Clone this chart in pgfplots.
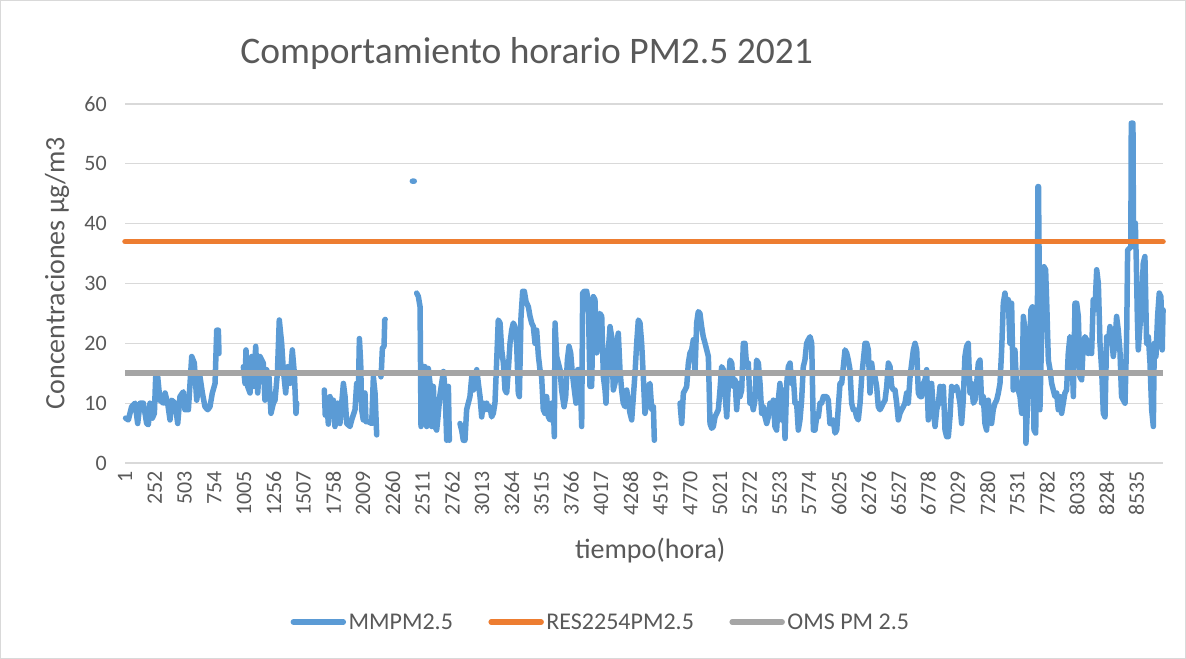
\documentclass[border=0pt]{standalone}
\usepackage{pgfplots}
\pgfplotsset{compat=1.18}
\usepackage{fontspec}
\setmainfont{Carlito}
\definecolor{txt}{HTML}{595959}
\definecolor{cblue}{HTML}{5B9BD5}
\definecolor{corange}{HTML}{ED7D31}
\definecolor{cgray}{HTML}{A5A5A5}
\definecolor{cgrid}{HTML}{D9D9D9}
\pgfplotstableread{
h v
5 7.5
28 7.2
56 9.4
85 10.0
107 6.6
127 10.0
155 10.0
183 6.6
197 6.4
211 10.0
231 7.5
248 8.3
259 14.4
276 14.4
295 10.5
324 10.0
338 11.7
360 10.0
380 7.2
394 10.5
422 10.0
445 6.6
464 11.1
492 11.9
506 8.9
535 8.9
563 17.8
585 16.7
605 10.5
633 14.4
653 11.7
675 9.4
698 8.9
717 9.4
737 11.7
760 13.3
774 22.2
788 22.2
793 18.3
795 nan
999 16.1
1013 13.3
1021 18.9
1035 12.8
1055 11.7
1069 17.8
1086 12.8
1103 19.5
1120 11.7
1139 17.8
1167 16.7
1181 10.5
1195 15.6
1215 14.4
1232 8.3
1252 10.0
1266 10.5
1286 15.0
1302 23.9
1322 20.0
1336 15.6
1356 11.7
1373 16.1
1392 13.3
1412 18.9
1429 15.0
1443 8.3
1449 10.0
1450 nan
1682 12.2
1690 8.0
1702 10.5
1716 6.5
1730 11.1
1744 8.9
1758 10.5
1772 6.1
1795 10.0
1814 6.6
1843 13.3
1857 11.1
1871 6.6
1899 6.1
1913 7.2
1941 8.9
1955 13.3
1969 11.7
1978 20.8
1989 16.7
1997 8.9
2011 7.2
2025 11.7
2034 6.9
2053 6.9
2082 6.6
2096 14.4
2110 11.7
2124 4.7
2130 nan
2160 14.4
2165 16.0
2172 19.2
2186 19.5
2192 23.9
2196 24.0
2200 nan
2425 47.1
2441 47.1
2445 nan
2461 28.4
2476 27.8
2490 26.1
2498 6.1
2509 16.1
2532 16.1
2546 6.1
2560 15.8
2574 13.3
2588 6.1
2602 12.8
2616 6.1
2630 5.5
2639 7.2
2658 11.4
2687 15.3
2701 12.2
2715 3.8
2729 12.8
2737 3.8
2740 nan
2827 6.6
2841 5.5
2855 3.8
2869 3.8
2883 8.9
2897 10.0
2911 11.1
2926 14.4
2940 12.2
2954 13.3
2968 15.6
2982 13.3
2996 11.1
3010 7.7
3024 10.0
3038 8.9
3052 10.0
3066 8.9
3080 9.4
3094 7.7
3108 8.3
3122 10.0
3136 16.7
3150 23.9
3165 23.4
3179 18.9
3193 16.7
3207 12.2
3221 11.7
3235 15.6
3249 20.0
3263 22.2
3277 23.4
3291 22.8
3305 20.0
3319 11.7
3328 11.1
3342 24.5
3356 28.7
3370 28.7
3384 27.0
3404 26.1
3418 24.5
3432 23.4
3446 22.8
3460 20.0
3474 22.2
3488 18.0
3502 15.6
3516 14.4
3530 8.9
3544 8.3
3558 11.1
3573 7.7
3587 7.2
3601 10.0
3615 10.0
3623 4.4
3629 23.4
3643 17.8
3657 16.7
3671 15.6
3685 12.2
3705 9.4
3719 11.1
3733 17.2
3747 19.5
3761 18.4
3775 15.0
3792 12.2
3806 10.0
3820 15.6
3840 15.6
3854 6.1
3862 28.4
3876 28.7
3896 28.7
3910 26.7
3924 12.8
3938 12.8
3952 27.8
3966 27.3
3980 18.4
3994 20.0
4008 25.0
4023 24.5
4037 14.4
4051 12.2
4059 10.0
4073 17.2
4093 22.8
4107 21.1
4121 12.2
4135 13.3
4149 20.0
4163 21.7
4177 15.6
4191 12.2
4205 10.0
4220 9.4
4234 12.2
4248 10.0
4262 8.3
4276 7.2
4290 11.1
4304 15.0
4318 20.0
4332 23.9
4346 23.4
4360 20.0
4374 14.4
4388 8.3
4402 10.0
4416 12.8
4430 13.3
4445 8.9
4459 9.4
4467 3.8
4470 nan
4684 10.0
4698 6.6
4712 11.7
4726 12.2
4740 12.8
4754 16.7
4768 18.4
4782 18.9
4796 20.6
4810 15.0
4824 23.4
4838 25.3
4852 25.0
4866 22.8
4880 21.1
4895 20.0
4909 18.9
4923 17.8
4937 6.6
4951 5.8
4965 6.1
4979 7.7
4993 8.3
5007 8.9
5021 12.2
5035 16.1
5049 15.6
5063 11.7
5078 7.7
5092 13.3
5106 17.2
5120 16.7
5134 12.8
5148 13.9
5162 8.9
5176 13.3
5190 11.1
5204 12.2
5218 20.0
5232 20.0
5246 16.1
5260 16.7
5274 10.0
5288 10.5
5302 8.9
5316 10.5
5330 17.2
5345 16.7
5359 13.3
5373 8.3
5387 9.4
5401 7.7
5415 6.6
5429 7.7
5443 10.0
5457 8.9
5471 10.5
5485 6.1
5499 5.5
5513 10.5
5527 13.3
5541 7.2
5555 12.2
5570 4.1
5584 13.3
5598 16.1
5612 16.7
5626 13.3
5640 14.4
5654 10.0
5668 10.0
5682 5.5
5696 7.2
5710 10.5
5724 16.1
5738 17.2
5752 20.0
5766 20.6
5781 21.1
5795 20.0
5809 5.5
5823 5.5
5837 7.7
5851 7.7
5865 10.0
5879 10.0
5893 11.1
5907 11.1
5921 11.1
5935 10.5
5949 6.6
5963 6.6
5977 7.2
5992 5.0
6006 5.5
6020 9.4
6034 13.3
6048 13.3
6062 16.1
6076 18.9
6090 18.4
6104 17.2
6118 15.6
6132 10.0
6146 8.9
6160 8.9
6174 7.7
6188 7.2
6203 10.0
6217 14.4
6231 17.2
6245 20.0
6259 20.0
6273 18.9
6287 11.7
6301 16.7
6315 14.4
6329 14.4
6343 12.8
6357 9.4
6371 8.9
6385 9.4
6399 10.0
6414 10.5
6428 12.8
6442 16.7
6456 16.1
6470 12.8
6484 12.2
6498 12.2
6512 10.0
6526 7.2
6540 8.3
6554 8.9
6568 9.4
6582 10.0
6596 11.7
6610 10.0
6625 14.4
6639 16.7
6653 18.9
6667 20.0
6681 18.9
6695 11.7
6709 11.1
6723 11.1
6737 13.3
6751 13.9
6765 15.6
6779 7.2
6793 10.5
6807 13.3
6821 8.9
6836 6.1
6850 8.9
6864 10.0
6878 12.8
6892 10.0
6906 12.8
6920 5.5
6934 4.4
6948 4.4
6962 7.7
6976 12.8
6990 12.2
7004 12.2
7018 12.8
7032 11.7
7046 10.0
7060 6.6
7074 10.5
7088 17.8
7102 19.5
7116 20.0
7131 11.7
7145 13.3
7159 10.0
7173 10.5
7187 13.3
7201 16.7
7215 17.2
7229 10.0
7243 11.1
7257 6.6
7271 5.5
7285 10.5
7299 7.2
7313 6.6
7327 8.9
7342 10.0
7356 10.5
7370 11.7
7384 13.3
7398 18.9
7412 26.7
7426 28.4
7440 25.6
7454 27.3
7468 20.0
7482 26.7
7496 12.2
7510 18.9
7524 12.8
7538 12.2
7553 11.1
7567 8.3
7581 24.5
7595 22.2
7603 3.3
7617 10.0
7628 16.7
7645 25.6
7657 26.1
7671 5.5
7685 5.0
7700 25.6
7704 46.2
7709 46.2
7713 36.7
7721 8.9
7730 16.7
7741 25.6
7755 32.8
7769 32.3
7780 25.6
7792 17.2
7806 15.6
7820 13.3
7834 12.2
7848 11.1
7862 11.7
7876 8.9
7890 11.1
7904 8.3
7918 10.0
7932 11.7
7946 12.2
7960 18.3
7974 21.1
7988 20.6
8003 11.1
8017 26.7
8031 26.7
8045 24.5
8059 14.4
8073 13.9
8087 20.0
8101 21.1
8115 20.6
8129 18.3
8143 20.0
8157 18.3
8171 27.3
8185 25.6
8200 32.3
8214 30.0
8228 20.0
8242 15.6
8256 8.3
8270 7.7
8284 21.1
8298 20.0
8312 22.8
8326 21.1
8340 17.8
8354 20.0
8368 24.5
8382 22.2
8396 18.9
8410 11.1
8425 10.5
8439 10.0
8453 21.1
8461 35.6
8488 36.1
8492 56.8
8506 56.8
8510 40.1
8526 40.1
8534 33.9
8543 24.5
8551 18.9
8565 22.8
8579 26.7
8593 33.4
8607 34.5
8621 20.0
8636 21.1
8650 16.7
8664 8.9
8678 6.1
8686 20.0
8700 17.8
8714 24.5
8728 28.4
8742 27.8
8753 18.9
8760 25.6
}\pmdata
\begin{document}
\begin{tikzpicture}
\path[use as bounding box] (0,0) rectangle (1186bp,659bp);
\draw[cgrid, line width=1.2bp] (0.6bp,0.6bp) rectangle (1185.4bp,658.4bp);
\begin{axis}[
  at={(125bp,196bp)}, anchor=south west,
  scale only axis, width=1038bp, height=359bp,
  xmin=0, xmax=8760, ymin=0, ymax=60,
  clip=false,
  axis line style={draw=none},
  ytick={0,10,...,60},
  xtick={1,252,...,8535},
  major tick length=0pt,
  ymajorgrids, grid style={cgrid, line width=1.3bp},
  /pgf/number format/.cd, 1000 sep={}, assume math mode=true, /pgfplots/.cd,
  tick label style={font=\fontsize{22bp}{26bp}\selectfont, text=txt},
  xticklabel style={rotate=90, anchor=east, inner sep=0pt},
  xticklabel shift=8bp,
  yticklabel style={anchor=east, inner sep=0pt},
  yticklabel shift=18bp,
  unbounded coords=jump,
  title={Comportamiento horario PM2.5 2021},
  title style={at={(axis description cs:0.387,1.123)}, anchor=center, font=\fontsize{37.5bp}{44bp}\selectfont, text=txt},
  xlabel={tiempo(hora)},
  xlabel style={at={(axis description cs:0.506,-0.245)}, anchor=center, font=\fontsize{28bp}{32bp}\selectfont, text=txt},
  ylabel={Concentraciones µg/m3},
  ylabel style={at={(axis description cs:-0.0655,0.529)}, anchor=center, font=\fontsize{28bp}{32bp}\selectfont, text=txt},
  legend columns=-1,
  legend style={at={(axis description cs:0.4586,-0.443)}, anchor=center, draw=none, fill=none,
    font=\fontsize{24bp}{28bp}\selectfont, text=txt, nodes={inner sep=2.5bp},
    /tikz/every even column/.append style={column sep=33bp}},
  legend image code/.code={\draw[#1, line cap=round] (0bp,0bp) -- (50bp,0bp);},
]
\addplot[cblue, line width=5.5bp, line join=round, line cap=round] table[x=h, y=v] {\pmdata};
\addlegendentry{MMPM2.5}
\addplot[corange, line width=5.5bp, line cap=round] coordinates {(0,37) (8760,37)};
\addlegendentry{RES2254PM2.5}
\addplot[cgray, line width=5.5bp] coordinates {(0,15) (8760,15)};
\addlegendentry{OMS PM 2.5}
\end{axis}
\end{tikzpicture}
\end{document}
